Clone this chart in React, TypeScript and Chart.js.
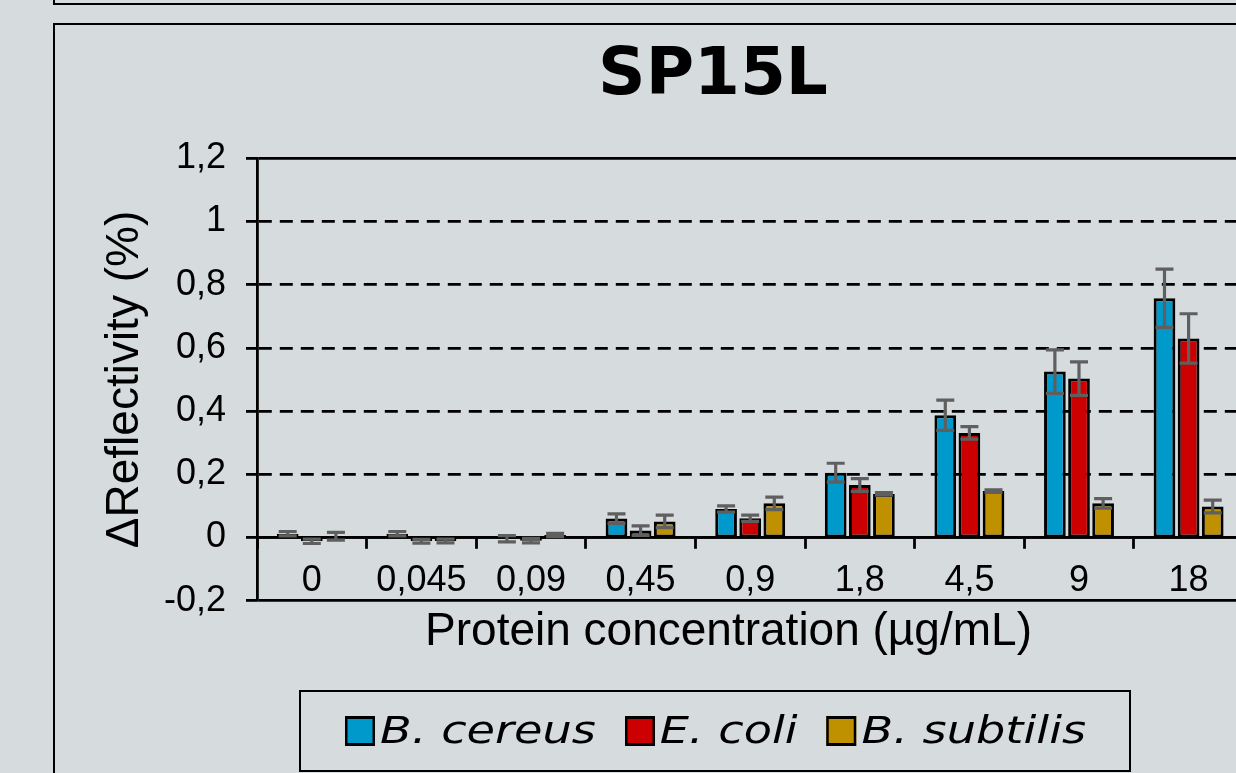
import React, { useEffect, useRef } from 'react';
import { Chart, registerables } from 'chart.js';

Chart.register(...registerables);

// ---- data ----
const categories = ['0', '0,045', '0,09', '0,45', '0,9', '1,8', '4,5', '9', '18'];
const seriesNames = ['B. cereus', 'E. coli', 'B. subtilis'];
const seriesColors = ['#0099CC', '#CC0000', '#BF9000'];

const bCereus = [0.012, 0.012, -0.004, 0.06, 0.09, 0.205, 0.387, 0.525, 0.757];
const bCereusErr = [0.007, 0.007, 0.01, 0.015, 0.01, 0.03, 0.048, 0.069, 0.092];
const eColi = [-0.012, -0.012, -0.01, 0.022, 0.061, 0.166, 0.331, 0.503, 0.63];
const eColiErr = [0.007, 0.006, 0.007, 0.015, 0.01, 0.02, 0.02, 0.053, 0.078];
const bSubtilis = [0.004, -0.011, 0.008, 0.051, 0.108, 0.138, 0.147, 0.108, 0.098];
const bSubtilisErr = [0.012, 0.006, 0.005, 0.02, 0.02, 0.004, 0.004, 0.015, 0.02];

const yMin = -0.2;
const yMax = 1.2;
const yStep = 0.2;
const solidGridValues = [-0.2, 0, 1.2];

const chartTitle = 'SP15L';
const xAxisTitle = 'Protein concentration (µg/mL)';
const yAxisTitle = 'ΔReflectivity (%)';

// ---- layout constants ----
const W = 1426;
const H = 773;
const PLOT_LEFT = 257;
const PLOT_RIGHT = 1243.4;
const PLOT_BOTTOM = 600.7;

const values = [bCereus, eColi, bSubtilis];
const errors = [bCereusErr, eColiErr, bSubtilisErr];

export default function App() {
  const ref = useRef<HTMLCanvasElement | null>(null);

  useEffect(() => {
    if (!ref.current) return;

    const errorBars = {
      id: 'errorBars',
      afterDatasetsDraw(chart: any) {
        const ctx = chart.ctx;
        const yScale = chart.scales.y;
        ctx.save();
        ctx.strokeStyle = '#5f5f5f';
        ctx.lineWidth = 3.2;
        chart.data.datasets.forEach((ds: any, i: number) => {
          const meta = chart.getDatasetMeta(i);
          meta.data.forEach((el: any, j: number) => {
            const v = ds.data[j];
            const e = ds.errors[j];
            const x = el.x;
            const yt = yScale.getPixelForValue(v + e);
            const yb = yScale.getPixelForValue(v - e);
            const cap = 9;
            ctx.beginPath();
            ctx.moveTo(x, yt);
            ctx.lineTo(x, yb);
            ctx.moveTo(x - cap, yt);
            ctx.lineTo(x + cap, yt);
            ctx.moveTo(x - cap, yb);
            ctx.lineTo(x + cap, yb);
            ctx.stroke();
          });
        });
        ctx.restore();
      },
    };

    const xTitlePlugin = {
      id: 'xTitlePlugin',
      afterDraw(chart: any) {
        const ctx = chart.ctx;
        ctx.save();
        ctx.fillStyle = '#000';
        ctx.font = '46px "Liberation Sans", Arial, sans-serif';
        ctx.textAlign = 'center';
        ctx.textBaseline = 'alphabetic';
        ctx.fillText(xAxisTitle, 728.5, 645);
        ctx.restore();
      },
    };

    const isSolid = (v: number) => solidGridValues.some((s) => Math.abs(s - v) < 1e-6);

    const chart = new Chart(ref.current, {
      type: 'bar',
      data: {
        labels: categories,
        datasets: seriesNames.map((name, i) => ({
          label: name,
          data: values[i],
          errors: errors[i],
          backgroundColor: seriesColors[i],
          borderColor: '#000',
          borderWidth: 3,
          borderSkipped: false,
          categoryPercentage: 0.66,
          barPercentage: 0.9,
          yAxisID: 'y',
        })) as any,
      },
      options: {
        animation: false,
        responsive: false,
        events: [],
        layout: { padding: { left: 0, right: 0, top: 0, bottom: H - PLOT_BOTTOM } },
        plugins: {
          legend: { display: false },
          tooltip: { enabled: false },
          title: {
            display: true,
            text: chartTitle,
            color: '#000',
            font: { family: '"DejaVu Sans", Verdana, sans-serif', size: 66, weight: 'bold' },
            padding: { top: 37.4, bottom: 41.7 },
          },
        },
        scales: {
          x: {
            type: 'category',
            position: { y: 0 } as any,
            offset: true,
            grid: {
              display: true,
              drawOnChartArea: false,
              drawTicks: true,
              tickLength: 10,
              tickWidth: 2.8,
              tickColor: '#000',
              offset: true,
            },
            border: { display: true, color: '#000', width: 2.8 },
            ticks: {
              color: '#000',
              font: { family: '"Liberation Sans", Arial, sans-serif', size: 36 },
              padding: 12,
              maxRotation: 0,
              autoSkip: false,
            },
          },
          y: {
            type: 'linear',
            position: 'left',
            min: yMin,
            max: yMax,
            ticks: {
              stepSize: yStep,
              color: '#000',
              font: { family: '"Liberation Sans", Arial, sans-serif', size: 36 },
              padding: 20,
              callback: (v: any) => String(Math.round(Number(v) * 10) / 10).replace('.', ','),
            },
            grid: {
              color: '#000',
              lineWidth: 2.8,
              drawTicks: true,
              tickLength: 11,
              tickWidth: 2.8,
              tickColor: '#000',
            },
            border: {
              display: true,
              color: '#000',
              width: 2.8,
              dash: (ctx: any) => {
                const t = ctx.tick;
                if (!t) return [];
                return isSolid(t.value) ? [] : [13, 8];
              },
            } as any,
            title: {
              display: true,
              text: yAxisTitle,
              color: '#000',
              font: { family: '"Liberation Sans", Arial, sans-serif', size: 46 },
              padding: { top: 98.2, bottom: 0 },
            },
            afterFit: (s: any) => {
              s.width = PLOT_LEFT;
            },
          },
          pad: {
            type: 'linear',
            position: 'right',
            display: true,
            grid: { display: false, drawTicks: false },
            ticks: { display: false },
            border: { display: false },
            afterFit: (s: any) => {
              s.width = W - PLOT_RIGHT;
            },
          },
        } as any,
      },
      plugins: [errorBars, xTitlePlugin],
    });

    return () => chart.destroy();
  }, []);

  const legendFont = 'italic 37px "DejaVu Sans", Verdana, sans-serif';

  return (
    <div
      style={{
        position: 'fixed',
        left: 0,
        top: 0,
        width: 1236,
        height: 773,
        overflow: 'hidden',
        background: '#d6dbde',
      }}
    >
      <div
        style={{
          position: 'absolute',
          left: 53,
          top: -96,
          width: 1400,
          height: 101,
          border: '2.5px solid #000',
          boxSizing: 'border-box',
        }}
      />
      <div
        style={{
          position: 'absolute',
          left: 53,
          top: 23,
          width: 1400,
          height: 800,
          border: '2.5px solid #000',
          boxSizing: 'border-box',
        }}
      />
      <canvas
        ref={ref}
        width={W}
        height={H}
        style={{ position: 'absolute', left: 0, top: 0, width: W, height: H }}
      />
      <div
        style={{
          position: 'absolute',
          left: 299,
          top: 690,
          width: 832,
          height: 82,
          border: '2.5px solid #000',
          boxSizing: 'border-box',
        }}
      />
      <div
        style={{
          position: 'absolute',
          left: 345,
          top: 709,
          height: 43,
          display: 'flex',
          alignItems: 'center',
          transform: 'scaleX(1.25)',
          transformOrigin: '0 50%',
          whiteSpace: 'nowrap',
          font: legendFont,
          lineHeight: '43px',
          color: '#000',
        }}
      >
        {seriesNames.map((name, i) => (
          <div
            key={name}
            style={{ display: 'flex', alignItems: 'center', marginRight: i < seriesNames.length - 1 ? 23 : 0 }}
          >
            <span
              style={{
                display: 'inline-block',
                width: 24,
                height: 30,
                boxSizing: 'border-box',
                background: seriesColors[i],
                border: '3px solid #000',
                borderLeftWidth: 2.4,
                borderRightWidth: 2.4,
                marginRight: 4,
              }}
            />
            <span>{name}</span>
          </div>
        ))}
      </div>
    </div>
  );
}
